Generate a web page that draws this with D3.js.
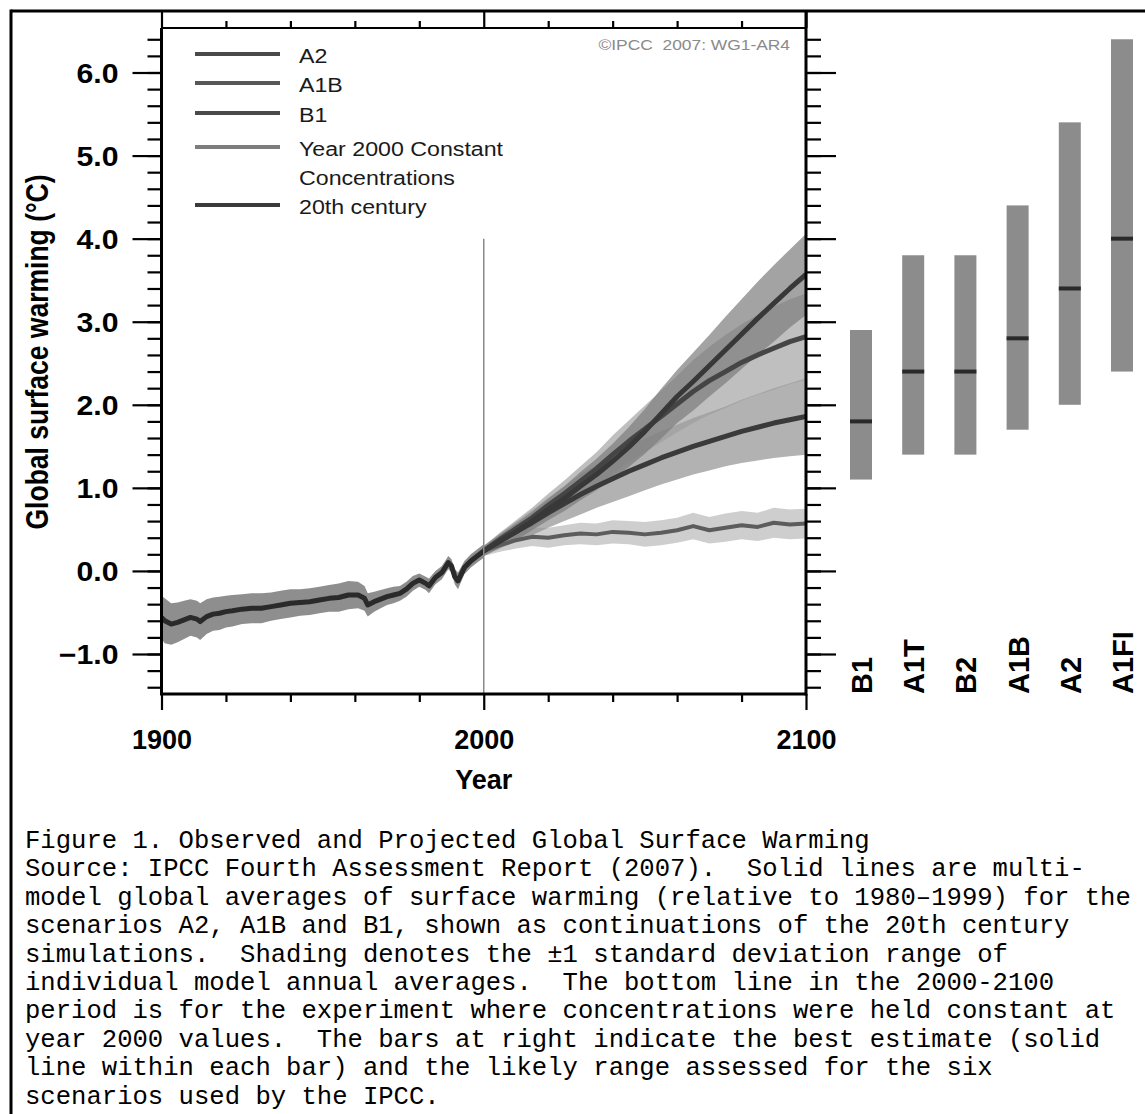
<!DOCTYPE html>
<html lang="en">
<head>
<meta charset="UTF-8">
<title>Observed and Projected Global Surface Warming</title>
<script src="https://d3js.org/d3.v7.min.js"></script>
<style>
  body { margin: 0; background: #fff; }
  svg { display: block; }
  .sans { font-family: Arial, "Liberation Sans", Helvetica, sans-serif; }
  .caption { font-family: "Courier New", "Liberation Mono", monospace; font-size: 25.6px; white-space: pre; }
  .axis line { stroke: #000; stroke-width: 2.2; }
  .axis path { display: none; }
</style>
</head>
<body>
<script>
// 20th century multi-model mean (relative to 1980-1999) and +/-1 sd
const histYears = [1900,1901,1903,1905,1907,1909,1911,1912,1914,1916,1918,1920,1922,1925,1928,1931,1934,1937,1940,1943,1946,1949,1952,1955,1958,1961,1963,1964,1966,1968,1970,1972,1974,1976,1978,1980,1982,1983,1985,1987,1989,1990,1991,1992,1994,1996,1998,2000];
const histMean = [-0.56,-0.60,-0.64,-0.62,-0.59,-0.56,-0.58,-0.61,-0.55,-0.52,-0.51,-0.49,-0.48,-0.46,-0.45,-0.45,-0.43,-0.41,-0.39,-0.38,-0.37,-0.35,-0.33,-0.32,-0.29,-0.29,-0.33,-0.41,-0.37,-0.34,-0.31,-0.29,-0.27,-0.22,-0.15,-0.11,-0.15,-0.18,-0.08,-0.02,0.10,0.06,-0.07,-0.12,0.04,0.12,0.18,0.24];
const histSpread = [0.26,0.27,0.25,0.24,0.23,0.22,0.22,0.22,0.21,0.20,0.20,0.19,0.19,0.18,0.18,0.18,0.17,0.17,0.17,0.16,0.16,0.16,0.16,0.17,0.17,0.16,0.15,0.14,0.12,0.11,0.10,0.10,0.09,0.09,0.09,0.08,0.08,0.09,0.08,0.08,0.08,0.08,0.09,0.10,0.08,0.08,0.08,0.08];

// scenario projections 2000-2100
const projYears = [2000,2005,2010,2015,2020,2025,2030,2035,2040,2045,2050,2055,2060,2065,2070,2075,2080,2085,2090,2095,2100];
const a2Mean = [0.24,0.36,0.47,0.60,0.74,0.87,1.02,1.16,1.32,1.49,1.68,1.89,2.10,2.28,2.47,2.66,2.85,3.04,3.22,3.40,3.57];
const a2Spread = [0.06,0.08,0.10,0.11,0.13,0.15,0.17,0.19,0.21,0.24,0.27,0.30,0.32,0.35,0.37,0.40,0.42,0.44,0.46,0.47,0.49];
const a1bMean = [0.24,0.38,0.51,0.64,0.79,0.93,1.08,1.23,1.40,1.56,1.71,1.86,2.01,2.16,2.29,2.40,2.51,2.60,2.68,2.76,2.82];
const a1bSpread = [0.06,0.08,0.10,0.12,0.14,0.16,0.18,0.20,0.23,0.25,0.28,0.31,0.34,0.38,0.41,0.44,0.46,0.48,0.50,0.51,0.52];
const b1Mean = [0.24,0.36,0.47,0.58,0.70,0.81,0.92,1.02,1.11,1.20,1.28,1.36,1.43,1.50,1.56,1.62,1.68,1.73,1.78,1.82,1.86];
const b1Spread = [0.06,0.09,0.12,0.15,0.18,0.21,0.24,0.26,0.28,0.30,0.31,0.32,0.33,0.34,0.35,0.36,0.38,0.40,0.42,0.44,0.46];
const constMean = [0.24,0.31,0.37,0.41,0.40,0.43,0.45,0.44,0.47,0.46,0.44,0.46,0.49,0.54,0.49,0.52,0.55,0.53,0.58,0.56,0.57];
const constSpread = [0.06,0.08,0.10,0.11,0.12,0.12,0.13,0.13,0.14,0.14,0.15,0.15,0.15,0.16,0.16,0.17,0.17,0.17,0.18,0.18,0.18];

// bars on the right: best estimate and likely range for 2090-2099
const scenarios = ["B1","A1T","B2","A1B","A2","A1FI"];
const bestEstimate = [1.8,2.4,2.4,2.8,3.4,4.0];
const likelyLow = [1.1,1.4,1.4,1.7,2.0,2.4];
const likelyHigh = [2.9,3.8,3.8,4.4,5.4,6.4];

const legendLabels = [["A2"],["A1B"],["B1"],["Year 2000 Constant","Concentrations"],["20th century"]];
const yTicks = [-1,0,1,2,3,4,5,6];
const xTicks = [1900,2000,2100];
const xMinorTicks = [1920,1940,1960,1980,2020,2040,2060,2080];

const captionLines = [
  "Figure 1. Observed and Projected Global Surface Warming",
  "Source: IPCC Fourth Assessment Report (2007).  Solid lines are multi-",
  "model global averages of surface warming (relative to 1980\u20131999) for the",
  "scenarios A2, A1B and B1, shown as continuations of the 20th century",
  "simulations.  Shading denotes the \u00b11 standard deviation range of",
  "individual model annual averages.  The bottom line in the 2000-2100",
  "period is for the experiment where concentrations were held constant at",
  "year 2000 values.  The bars at right indicate the best estimate (solid",
  "line within each bar) and the likely range assessed for the six",
  "scenarios used by the IPCC."
];

const width = 1145, height = 1114;
const plotTop = 28, plotBottom = 694;

const svg = d3.select("body").append("svg")
  .attr("width", width)
  .attr("height", height);

svg.append("rect").attr("width", width).attr("height", height).attr("fill", "#fff");

const x = d3.scaleLinear().domain([1900, 2100]).range([161.5, 806]);
const y = d3.scaleLinear().domain([-1, 6]).range([654, 72.5]);
const xb = d3.scalePoint().domain(scenarios).range([861, 1122]);

const rows = (years, mean, sd) => years.map((yr, i) => ({ year: yr, mean: mean[i], sd: sd[i] }));
const hist = rows(histYears, histMean, histSpread);
const series = [
  { key: "A2", data: rows(projYears, a2Mean, a2Spread), band: "#7c7c7c", bandOp: 0.7, line: "#383838", w: 5 },
  { key: "A1B", data: rows(projYears, a1bMean, a1bSpread), band: "#9c9c9c", bandOp: 0.65, line: "#454545", w: 5 },
  { key: "B1", data: rows(projYears, b1Mean, b1Spread), band: "#929292", bandOp: 0.7, line: "#3a3a3a", w: 5 },
  { key: "const", data: rows(projYears, constMean, constSpread), band: "#bdbdbd", bandOp: 0.75, line: "#5c5c5c", w: 4 }
];

const area = d3.area()
  .x(d => x(d.year))
  .y0(d => y(d.mean - d.sd))
  .y1(d => y(d.mean + d.sd));
const line = d3.line()
  .x(d => x(d.year))
  .y(d => y(d.mean));

svg.append("clipPath").attr("id", "plot-clip")
  .append("rect")
  .attr("x", x(1900)).attr("y", plotTop)
  .attr("width", x(2100) - x(1900)).attr("height", plotBottom - plotTop);

const plot = svg.append("g").attr("clip-path", "url(#plot-clip)");

// shading first, then the mean lines on top
series.slice().reverse().forEach(s => {
  plot.append("path").datum(s.data)
    .attr("d", area)
    .attr("fill", s.band)
    .attr("fill-opacity", s.bandOp);
});
plot.append("path").datum(hist)
  .attr("d", area)
  .attr("fill", "#8e8e8e");

// vertical marker at 2000
svg.append("line")
  .attr("x1", x(2000)).attr("x2", x(2000))
  .attr("y1", y(4)).attr("y2", plotBottom)
  .attr("stroke", "#8a8a8a").attr("stroke-width", 1.5);

series.slice().reverse().forEach(s => {
  plot.append("path").datum(s.data)
    .attr("d", line)
    .attr("fill", "none")
    .attr("stroke", s.line)
    .attr("stroke-width", s.w)
    .attr("stroke-linejoin", "round");
});
plot.append("path").datum(hist)
  .attr("d", line)
  .attr("fill", "none")
  .attr("stroke", "#2a2a2a")
  .attr("stroke-width", 5)
  .attr("stroke-linejoin", "round");

// axes
const yMinor = d3.range(-14, 65, 2).map(v => v / 10);
const fmtY = v => (v < 0 ? "\u2212" : "") + Math.abs(v).toFixed(1);

svg.append("g").attr("class", "axis")
  .attr("transform", `translate(${x(1900)},0)`)
  .call(d3.axisLeft(y).tickValues(yMinor).tickSize(14).tickFormat(""));
svg.append("g").attr("class", "axis sans")
  .attr("transform", `translate(${x(1900)},0)`)
  .call(d3.axisLeft(y).tickValues(yTicks).tickSize(29).tickFormat(fmtY))
  .call(g => g.selectAll(".tick text")
    .attr("x", null).attr("dy", null)
    .attr("transform", "translate(-43,9.7) scale(1.12,1)")
    .attr("text-anchor", "end")
    .attr("font-size", 27).attr("font-weight", "bold").attr("fill", "#000"));

svg.append("g").attr("class", "axis")
  .attr("transform", `translate(${x(2100)},0)`)
  .call(d3.axisRight(y).tickValues(yMinor).tickSize(15).tickFormat(""));
svg.append("g").attr("class", "axis")
  .attr("transform", `translate(${x(2100)},0)`)
  .call(d3.axisRight(y).tickValues(yTicks).tickSize(30).tickFormat(""));

svg.append("g").attr("class", "axis")
  .attr("transform", `translate(0,${plotBottom})`)
  .call(d3.axisBottom(x).tickValues(xMinorTicks).tickSize(8).tickFormat(""));
svg.append("g").attr("class", "axis sans")
  .attr("transform", `translate(0,${plotBottom})`)
  .call(d3.axisBottom(x).tickValues(xTicks).tickSize(16).tickFormat(d3.format("d")))
  .call(g => g.selectAll(".tick text")
    .attr("y", 55).attr("dy", null)
    .attr("font-size", 27).attr("font-weight", "bold").attr("fill", "#000"));

svg.append("g").attr("class", "axis")
  .attr("transform", `translate(0,${plotTop})`)
  .call(d3.axisTop(x).tickValues(xMinorTicks).tickSize(7).tickFormat(""));
svg.append("g").attr("class", "axis")
  .attr("transform", `translate(0,${plotTop})`)
  .call(d3.axisTop(x).tickValues(xTicks).tickSize(17).tickFormat(""));

// frame
const frame = svg.append("g").attr("stroke", "#000").attr("fill", "none");
frame.append("line").attr("x1", x(1900)).attr("x2", x(1900)).attr("y1", plotTop).attr("y2", plotBottom + 1.5).attr("stroke-width", 3);
frame.append("line").attr("x1", x(1900)).attr("x2", x(2100)).attr("y1", plotBottom).attr("y2", plotBottom).attr("stroke-width", 3);
frame.append("line").attr("x1", x(2100)).attr("x2", x(2100)).attr("y1", 11).attr("y2", plotBottom + 1.5).attr("stroke-width", 3);
frame.append("line").attr("x1", x(1900)).attr("x2", x(2100)).attr("y1", plotTop).attr("y2", plotTop).attr("stroke-width", 2);
// outer figure border (only top and left are visible)
frame.append("line").attr("x1", 11).attr("x2", width).attr("y1", 11).attr("y2", 11).attr("stroke-width", 3);
frame.append("line").attr("x1", 11).attr("x2", 11).attr("y1", 9.5).attr("y2", height).attr("stroke-width", 3);

// axis titles
svg.append("text").attr("class", "sans")
  .attr("transform", `translate(${x(2000)},789)`)
  .attr("text-anchor", "middle")
  .attr("font-size", 27).attr("font-weight", "bold")
  .text("Year");
svg.append("text").attr("class", "sans")
  .attr("transform", "translate(48,352) rotate(-90) scale(1,1.15)")
  .attr("text-anchor", "middle")
  .attr("font-size", 26.5).attr("font-weight", "bold")
  .text("Global surface warming (\u00b0C)");

// legend
const legendY = [54, 83, 113, 147, 205];
const legendColors = ["#4a4a4a", "#575757", "#4a4a4a", "#7d7d7d", "#3a3a3a"];
const legend = svg.append("g").attr("class", "sans");
legendLabels.forEach((lab, i) => {
  legend.append("line")
    .attr("x1", 195).attr("x2", 280)
    .attr("y1", legendY[i]).attr("y2", legendY[i])
    .attr("stroke", legendColors[i]).attr("stroke-width", 4);
  lab.forEach((t, j) => {
    legend.append("text")
      .attr("transform", `translate(299,${legendY[i] + 9 + j * 29}) scale(1.16,1)`)
      .attr("font-size", 20).attr("fill", "#1a1a1a")
      .text(t);
  });
});

svg.append("text").attr("class", "sans")
  .attr("transform", "translate(790,50) scale(1.2,1)")
  .attr("text-anchor", "end")
  .attr("font-size", 14.5).attr("fill", "#8a8a8a")
  .style("white-space", "pre")
  .text("\u00a9IPCC  2007: WG1-AR4");

// likely-range bars
const barW = 22;
const bars = svg.append("g");
bars.selectAll("rect.range")
  .data(scenarios)
  .join("rect")
  .attr("class", "range")
  .attr("x", d => xb(d) - barW / 2)
  .attr("width", barW)
  .attr("y", (d, i) => y(likelyHigh[i]))
  .attr("height", (d, i) => y(likelyLow[i]) - y(likelyHigh[i]))
  .attr("fill", "#8c8c8c");
bars.selectAll("rect.best")
  .data(scenarios)
  .join("rect")
  .attr("class", "best")
  .attr("x", d => xb(d) - barW / 2)
  .attr("width", barW)
  .attr("y", (d, i) => y(bestEstimate[i]) - 2)
  .attr("height", 4)
  .attr("fill", "#2a2a2a");
bars.selectAll("text")
  .data(scenarios)
  .join("text")
  .attr("class", "sans")
  .attr("transform", d => `translate(${xb(d) + 11},694) rotate(-90)`)
  .attr("font-size", 29).attr("font-weight", "bold")
  .text(d => d);

// caption
svg.append("text").attr("class", "caption")
  .selectAll("tspan")
  .data(captionLines)
  .join("tspan")
  .attr("x", 25)
  .attr("y", (d, i) => 848 + i * 28.4)
  .text(d => d);
</script>
</body>
</html>
